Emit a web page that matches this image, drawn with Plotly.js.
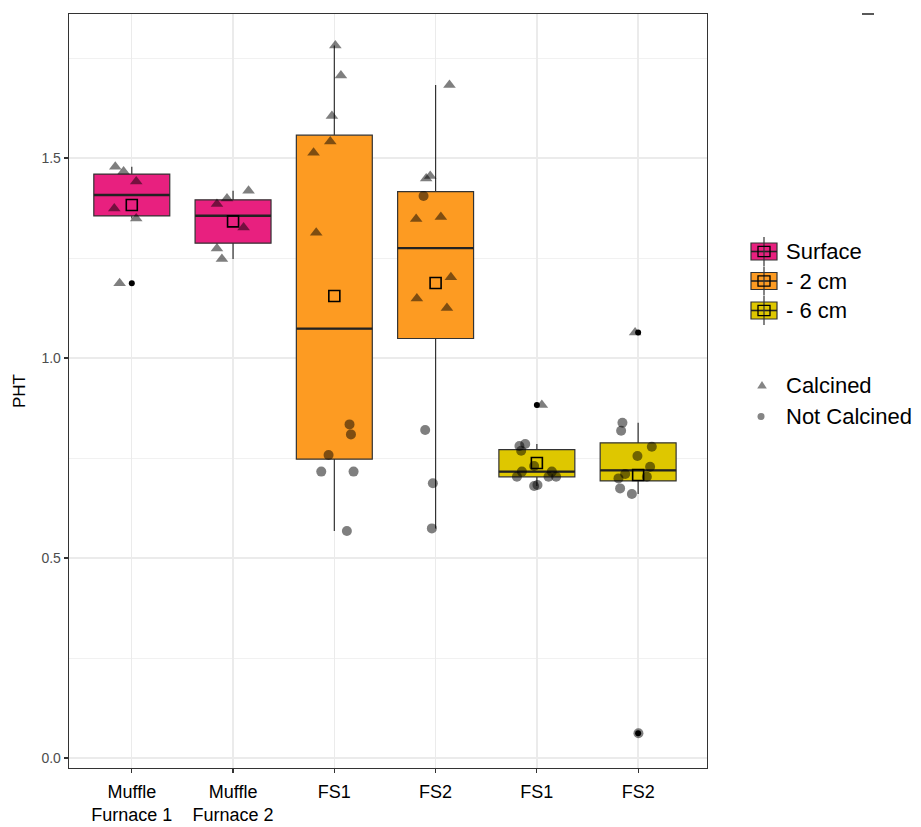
<!DOCTYPE html>
<html>
<head>
<meta charset="utf-8">
<script src="https://cdn.plot.ly/plotly-3.0.1.min.js"></script>
<style>
  html, body { margin: 0; padding: 0; background: #ffffff; }
  #chart { width: 921px; height: 827px; }
</style>
</head>
<body>
<div id="chart"></div>
<script>
// ---- data -------------------------------------------------------------
const categories = ['Muffle<br>Furnace 1', 'Muffle<br>Furnace 2', 'FS1', 'FS2', 'FS1', 'FS2'];
const depths = ['Surface', 'Surface', '- 2 cm', '- 2 cm', '- 6 cm', '- 6 cm'];
const depthLevels = ['Surface', '- 2 cm', '- 6 cm'];

// PHT values per sample, its treatment (C = calcined, N = not calcined)
// and the horizontal jitter of each plotted point (category units)
const pht1 = [1.478, 1.466, 1.441, 1.374, 1.349, 1.187];
const trt1 = ['C', 'C', 'C', 'C', 'C', 'C'];
const jit1 = [-0.163, -0.081, 0.044, -0.173, 0.044, -0.12];

const pht2 = [1.418, 1.399, 1.385, 1.326, 1.274, 1.2475];
const trt2 = ['C', 'C', 'C', 'C', 'C', 'C'];
const jit2 = [0.153, -0.06, -0.159, 0.104, -0.159, -0.11];

const pht3 = [1.781, 1.706, 1.605, 1.541, 1.513, 1.313, 0.834, 0.809, 0.7575, 0.716, 0.716, 0.5675];
const trt3 = ['C', 'C', 'C', 'C', 'C', 'C', 'N', 'N', 'N', 'N', 'N', 'N'];
const jit3 = [0.01, 0.065, -0.024, -0.04, -0.205, -0.179, 0.15, 0.164, -0.057, -0.129, 0.19, 0.124];

const pht4 = [1.6825, 1.455, 1.449, 1.405, 1.3525, 1.3475, 1.2017, 1.149, 1.125, 0.82, 0.687, 0.574];
const trt4 = ['C', 'C', 'C', 'N', 'C', 'C', 'C', 'C', 'C', 'N', 'N', 'N'];
const jit4 = [0.137, -0.053, -0.093, -0.119, 0.052, -0.192, 0.151, -0.185, 0.112, -0.103, -0.027, -0.037];

const pht5 = [0.8825, 0.785, 0.78, 0.768, 0.73, 0.716, 0.716, 0.703, 0.703, 0.703, 0.6825, 0.68];
const trt5 = ['C', 'N', 'N', 'N', 'N', 'N', 'N', 'N', 'N', 'N', 'N', 'N'];
const jit5 = [0.049, -0.115, -0.172, -0.155, -0.027, -0.148, 0.148, -0.197, 0.115, 0.19, 0.006, -0.027];

const pht6 = [1.064, 0.838, 0.818, 0.778, 0.755, 0.728, 0.71, 0.703, 0.699, 0.674, 0.66, 0.062];
const trt6 = ['C', 'N', 'N', 'N', 'N', 'N', 'N', 'N', 'N', 'N', 'N', 'N'];
const jit6 = [-0.03, -0.155, -0.168, 0.135, -0.007, 0.118, -0.128, 0.086, -0.194, -0.178, -0.062, 0.003];

const yTickVals = [0, 0.5, 1.0, 1.5];
const yTickText = ['0.0', '0.5', '1.0', '1.5'];

// ---- styling ----------------------------------------------------------
const depthColors = { 'Surface': '#E8207F', '- 2 cm': '#FD9B22', '- 6 cm': '#DEC700' };
const FONT = 'Liberation Sans, Arial, Helvetica, sans-serif';
const BOXW = 0.75;
const EDGE = '#333333';

const phtGroups = [pht1, pht2, pht3, pht4, pht5, pht6];
const trtGroups = [trt1, trt2, trt3, trt4, trt5, trt6];
const jitGroups = [jit1, jit2, jit3, jit4, jit5, jit6];

// R type-7 quantile on a sorted array
function quantile(sorted, p) {
  const h = (sorted.length - 1) * p;
  const lo = Math.floor(h), hi = Math.ceil(h);
  return sorted[lo] + (h - lo) * (sorted[hi] - sorted[lo]);
}

function boxStats(vals) {
  const s = vals.slice().sort((a, b) => a - b);
  const q1 = quantile(s, 0.25), med = quantile(s, 0.5), q3 = quantile(s, 0.75);
  const iqr = q3 - q1;
  const loLim = q1 - 1.5 * iqr, hiLim = q3 + 1.5 * iqr;
  const inside = s.filter(v => v >= loLim && v <= hiLim);
  const out = s.filter(v => v < loLim || v > hiLim);
  const mean = s.reduce((a, b) => a + b, 0) / s.length;
  return { q1, med, q3, lf: inside[0], uf: inside[inside.length - 1], out, mean };
}

const traces = [];
const stats = phtGroups.map(boxStats);

// boxes
stats.forEach((st, i) => {
  traces.push({
    type: 'box',
    x: [i + 1],
    q1: [st.q1], median: [st.med], q3: [st.q3],
    lowerfence: [st.lf], upperfence: [st.uf],
    width: BOXW,
    whiskerwidth: 0,
    boxpoints: false,
    fillcolor: depthColors[depths[i]],
    line: { color: EDGE, width: 1.2 },
    hoverinfo: 'skip',
    showlegend: false
  });
});

// heavier median bars
const medX = [], medY = [];
stats.forEach((st, i) => {
  medX.push(i + 1 - BOXW / 2, i + 1 + BOXW / 2, null);
  medY.push(st.med, st.med, null);
});
traces.push({
  type: 'scatter', mode: 'lines', x: medX, y: medY,
  line: { color: '#222222', width: 2.4 }, hoverinfo: 'skip', showlegend: false
});

// outliers
const outX = [], outY = [];
stats.forEach((st, i) => st.out.forEach(v => { outX.push(i + 1); outY.push(v); }));
traces.push({
  type: 'scatter', mode: 'markers', x: outX, y: outY,
  marker: { color: '#000000', size: 6 }, hoverinfo: 'skip', showlegend: false
});

// jittered samples
function samples(code) {
  const xs = [], ys = [];
  phtGroups.forEach((vals, i) => vals.forEach((v, k) => {
    if (trtGroups[i][k] === code) { xs.push(i + 1 + jitGroups[i][k]); ys.push(v); }
  }));
  return { xs, ys };
}
const calc = samples('C'), notCalc = samples('N');
traces.push({
  type: 'scatter', mode: 'markers', name: 'Calcined', x: calc.xs, y: calc.ys,
  marker: { symbol: 'triangle-up', size: 11, color: 'rgba(0,0,0,0.5)', line: { width: 0 } },
  showlegend: false
});
traces.push({
  type: 'scatter', mode: 'markers', name: 'Not Calcined', x: notCalc.xs, y: notCalc.ys,
  marker: { symbol: 'circle', size: 10, color: 'rgba(0,0,0,0.5)', line: { width: 0 } },
  showlegend: false
});

// group means
traces.push({
  type: 'scatter', mode: 'markers',
  x: stats.map((st, i) => i + 1), y: stats.map(st => st.mean),
  marker: { symbol: 'square-open', size: 11, color: '#000000', line: { width: 1.6, color: '#000000' } },
  hoverinfo: 'skip', showlegend: false
});

// ---- layout & hand-built legend ------------------------------------------
const L = 69, R = 707, T = 14, B = 768;
const W = R - L, H = B - T;
const px = x => (x - L) / W;
const py = y => (B - y) / H;

const shapes = [];
const annotations = [];

depthLevels.forEach((lvl, k) => {
  const cy = 251.5 + k * 29.5;
  shapes.push({ type: 'rect', xref: 'paper', yref: 'paper', x0: px(751), x1: px(777), y0: py(cy - 8.5), y1: py(cy + 8.5), fillcolor: depthColors[lvl], line: { color: EDGE, width: 1.2 } });
  shapes.push({ type: 'line', xref: 'paper', yref: 'paper', x0: px(751), x1: px(777), y0: py(cy), y1: py(cy), line: { color: '#222222', width: 1.6 } });
  shapes.push({ type: 'line', xref: 'paper', yref: 'paper', x0: px(764), x1: px(764), y0: py(cy - 14.5), y1: py(cy + 14.5), line: { color: EDGE, width: 1.2 } });
  shapes.push({ type: 'rect', xref: 'paper', yref: 'paper', x0: px(758), x1: px(770), y0: py(cy - 5.2), y1: py(cy + 5.2), fillcolor: 'rgba(0,0,0,0)', line: { color: '#000000', width: 1.3 } });
  annotations.push({ xref: 'paper', yref: 'paper', x: px(784), y: py(cy), xanchor: 'left', yanchor: 'middle', text: lvl, showarrow: false, font: { family: FONT, size: 22, color: '#000000' } });
});

// treatment keys
const triCy = 385, cirCy = 416.5;
shapes.push({ type: 'path', xref: 'paper', yref: 'paper',
  path: 'M' + px(757.2) + ',' + py(triCy + 3.6) + ' L' + px(766.8) + ',' + py(triCy + 3.6) + ' L' + px(762) + ',' + py(triCy - 3.9) + ' Z',
  fillcolor: '#858585', line: { width: 0 } });
shapes.push({ type: 'circle', xref: 'paper', yref: 'paper', x0: px(757.5), x1: px(764.5), y0: py(cirCy + 3.5), y1: py(cirCy - 3.5), fillcolor: '#858585', line: { width: 0 } });
annotations.push({ xref: 'paper', yref: 'paper', x: px(784), y: py(triCy), xanchor: 'left', yanchor: 'middle', text: 'Calcined', showarrow: false, font: { family: FONT, size: 22, color: '#000000' } });
annotations.push({ xref: 'paper', yref: 'paper', x: px(784), y: py(cirCy), xanchor: 'left', yanchor: 'middle', text: 'Not Calcined', showarrow: false, font: { family: FONT, size: 22, color: '#000000' } });

// short rule at the top right corner of the figure
shapes.push({ type: 'line', xref: 'paper', yref: 'paper', x0: px(862), x1: px(874), y0: py(14), y1: py(14), line: { color: '#222222', width: 1.5 } });

const layout = {
  width: 921, height: 827,
  margin: { l: L, r: 921 - R, t: T, b: 827 - B, pad: 0 },
  paper_bgcolor: '#ffffff', plot_bgcolor: '#ffffff',
  font: { family: FONT, color: '#000000' },
  showlegend: false,
  xaxis: {
    range: [0.38, 6.68],
    tickmode: 'array', tickvals: [1, 2, 3, 4, 5, 6], ticktext: categories,
    ticks: 'outside', ticklen: 4, tickcolor: EDGE, tickwidth: 1.2,
    ticklabelstandoff: 3,
    tickfont: { family: FONT, size: 18, color: '#000000' },
    showgrid: true, gridcolor: '#EBEBEB', gridwidth: 1.3,
    showline: true, linecolor: EDGE, linewidth: 1.3, mirror: true,
    zeroline: false, fixedrange: true
  },
  yaxis: {
    range: [-0.025, 1.86],
    tickmode: 'array', tickvals: yTickVals, ticktext: yTickText,
    ticks: 'outside', ticklen: 4, tickcolor: EDGE, tickwidth: 1.2,
    tickfont: { family: FONT, size: 14, color: '#4D4D4D' },
    showgrid: true, gridcolor: '#EBEBEB', gridwidth: 1.3,
    minor: { dtick: 0.25, tick0: 0, showgrid: true, gridcolor: '#F0F0F0', gridwidth: 0.9, ticks: '' },
    showline: true, linecolor: EDGE, linewidth: 1.3, mirror: true,
    zeroline: false, fixedrange: true,
    title: { text: 'PHT', font: { family: FONT, size: 17, color: '#000000' }, standoff: 11 }
  },
  shapes: shapes,
  annotations: annotations
};

Plotly.newPlot('chart', traces, layout, { displayModeBar: false, staticPlot: true });
</script>
</body>
</html>
